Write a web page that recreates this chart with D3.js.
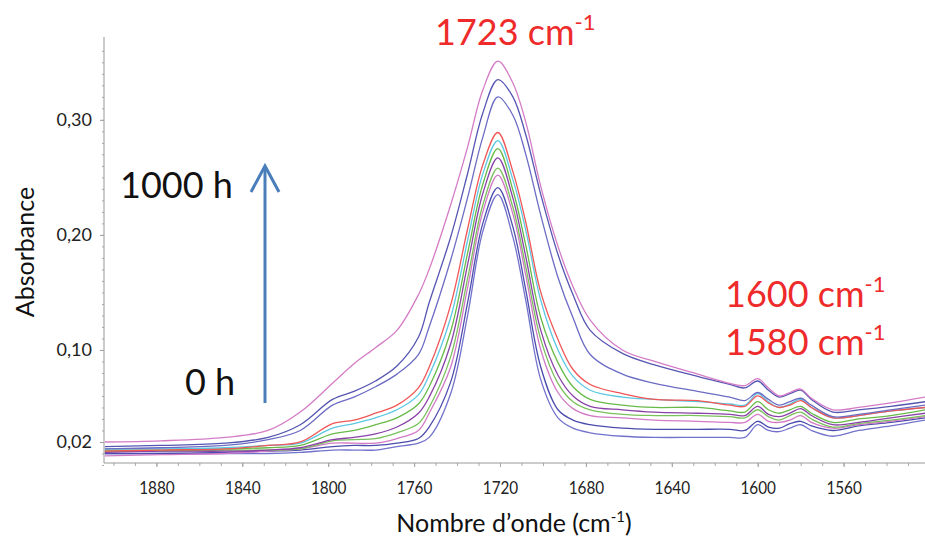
<!DOCTYPE html>
<html><head><meta charset="utf-8">
<script src="https://cdn.jsdelivr.net/npm/d3@7"></script>
<style>
body{margin:0;background:#fff;}
svg{display:block;font-family:Lato,"Open Sans",sans-serif;}
</style></head><body>
<svg id="chart" width="925" height="538"></svg>
<script>
// Wavenumber grid (cm-1)
const wavenumbers = [1904,1878,1848,1828,1813,1798,1788,1778,1768,1758,1753,1743,1735,1728,1721,1714,1708,1701,1693,1686,1678,1663,1648,1628,1613,1606,1600,1595,1590,1585,1580,1575,1565,1553,1538,1522];

// Absorbance spectra, from highest to lowest carbonyl peak
const spectrum1 = [0.020,0.021,0.024,0.030,0.046,0.071,0.088,0.102,0.117,0.148,0.170,0.226,0.277,0.326,0.351,0.332,0.298,0.242,0.190,0.155,0.126,0.100,0.090,0.079,0.071,0.069,0.075,0.067,0.060,0.063,0.066,0.058,0.048,0.050,0.054,0.059];
const spectrum2 = [0.016,0.017,0.019,0.024,0.035,0.057,0.064,0.073,0.086,0.111,0.141,0.198,0.254,0.306,0.335,0.320,0.287,0.235,0.183,0.148,0.117,0.097,0.087,0.077,0.070,0.067,0.073,0.065,0.059,0.062,0.065,0.057,0.046,0.048,0.051,0.055];
const spectrum3 = [0.014,0.015,0.017,0.022,0.030,0.052,0.059,0.068,0.079,0.096,0.120,0.178,0.233,0.285,0.320,0.304,0.270,0.217,0.163,0.128,0.096,0.079,0.071,0.064,0.059,0.056,0.063,0.057,0.052,0.055,0.058,0.052,0.042,0.044,0.048,0.052];
const spectrum4 = [0.012,0.013,0.014,0.017,0.020,0.036,0.039,0.045,0.052,0.067,0.085,0.139,0.206,0.261,0.289,0.255,0.211,0.150,0.109,0.083,0.070,0.062,0.057,0.056,0.052,0.051,0.060,0.054,0.050,0.052,0.056,0.050,0.041,0.043,0.047,0.050];
const spectrum5 = [0.014,0.014,0.015,0.017,0.019,0.032,0.036,0.041,0.048,0.061,0.078,0.128,0.196,0.253,0.282,0.248,0.204,0.143,0.100,0.077,0.065,0.059,0.057,0.055,0.053,0.052,0.062,0.055,0.050,0.053,0.057,0.050,0.041,0.043,0.047,0.050];
const spectrum6 = [0.013,0.013,0.014,0.015,0.017,0.027,0.030,0.035,0.041,0.053,0.068,0.116,0.185,0.244,0.275,0.239,0.191,0.128,0.089,0.068,0.057,0.052,0.050,0.050,0.047,0.046,0.055,0.048,0.045,0.048,0.051,0.045,0.037,0.040,0.043,0.048];
const spectrum7 = [0.011,0.012,0.012,0.013,0.015,0.022,0.024,0.027,0.033,0.045,0.059,0.105,0.175,0.236,0.267,0.232,0.181,0.117,0.078,0.060,0.051,0.048,0.046,0.045,0.044,0.043,0.051,0.044,0.042,0.045,0.049,0.043,0.035,0.037,0.041,0.045];
const spectrum8 = [0.012,0.012,0.013,0.013,0.014,0.021,0.022,0.023,0.028,0.036,0.050,0.094,0.163,0.226,0.258,0.224,0.172,0.109,0.071,0.055,0.048,0.044,0.043,0.043,0.042,0.041,0.048,0.042,0.039,0.043,0.046,0.040,0.033,0.036,0.039,0.043];
const spectrum9 = [0.008,0.009,0.010,0.012,0.014,0.019,0.019,0.019,0.023,0.030,0.045,0.085,0.155,0.220,0.252,0.218,0.165,0.100,0.063,0.049,0.043,0.041,0.039,0.038,0.037,0.037,0.044,0.038,0.037,0.039,0.043,0.037,0.032,0.035,0.038,0.042];
const spectrum10 = [0.010,0.010,0.011,0.012,0.013,0.016,0.017,0.017,0.019,0.023,0.033,0.072,0.142,0.210,0.241,0.207,0.152,0.085,0.048,0.039,0.035,0.032,0.031,0.031,0.031,0.030,0.038,0.033,0.032,0.036,0.038,0.034,0.030,0.034,0.037,0.041];
const spectrum11 = [0.010,0.010,0.010,0.010,0.011,0.013,0.013,0.013,0.016,0.019,0.024,0.062,0.131,0.203,0.235,0.198,0.143,0.074,0.041,0.032,0.028,0.025,0.024,0.024,0.024,0.024,0.035,0.030,0.029,0.032,0.035,0.030,0.025,0.030,0.034,0.039];

const spectra = [spectrum1,spectrum2,spectrum3,spectrum4,spectrum5,spectrum6,spectrum7,spectrum8,spectrum9,spectrum10,spectrum11];
const spectrumColors = ["#d47cc6","#5656b2","#6c6cc4","#f05656","#5cc8e2","#68ba48","#8a42a8","#7ac05c","#d27ac6","#4c4cae","#7272cc"];

const xTickValues = [1880,1840,1800,1760,1720,1680,1640,1600,1560];
const yTickValues = [0.02,0.10,0.20,0.30];
const xDomain = [1904.4,1522.1];
const yDomain = [0,0.372];

const svg = d3.select("#chart");
const x = d3.scaleLinear().domain(xDomain).range([104,925]);
const y = d3.scaleLinear().domain(yDomain).range([465,37]);

const locale = d3.formatLocale({decimal:",",thousands:" ",grouping:[3],currency:["","€"]});
const fmt = locale.format(".2f");

// Y axis
const yAxis = svg.append("g").attr("transform","translate(104,0)")
  .call(d3.axisLeft(y).tickValues(yTickValues).tickFormat(fmt).tickSize(4).tickPadding(8));
yAxis.select(".domain").remove();
yAxis.selectAll(".tick line").attr("stroke","#999");
yAxis.selectAll("text").attr("font-size",18).attr("fill","#222").attr("font-family","Lato");
const yMinor = svg.append("g").attr("transform","translate(104,0)")
  .call(d3.axisLeft(y).tickValues(d3.range(0,0.37,0.01)).tickFormat("").tickSize(2));
yMinor.select(".domain").remove();
yMinor.selectAll(".tick line").attr("stroke","#aaa");
svg.append("line").attr("x1",104).attr("x2",104).attr("y1",37).attr("y2",463).attr("stroke","#999").attr("stroke-width",1);

// X axis
const xAxis = svg.append("g").attr("transform","translate(0,463)")
  .call(d3.axisBottom(x).tickValues(xTickValues).tickFormat(d3.format("d")).tickSize(4).tickPadding(14));
xAxis.select(".domain").remove();
xAxis.selectAll(".tick line").attr("stroke","#999");
xAxis.selectAll("text").attr("font-size",18).attr("fill","#222").attr("font-family","Lato").attr("transform","scale(0.85,1)");
const xMinor = svg.append("g").attr("transform","translate(0,463)")
  .call(d3.axisBottom(x).tickValues(d3.range(1900,1525,-10)).tickFormat("").tickSize(3));
xMinor.select(".domain").remove();
xMinor.selectAll(".tick line").attr("stroke","#aaa");
svg.append("line").attr("x1",104).attr("x2",925).attr("y1",463).attr("y2",463).attr("stroke","#999").attr("stroke-width",1);

// Spectra
const line = d3.line().x((d,i)=>x(wavenumbers[i])).y(d=>y(d)).curve(d3.curveCatmullRom.alpha(0.5));
svg.append("g").selectAll("path").data(spectra.slice().reverse()).join("path")
  .attr("d",line).attr("fill","none")
  .attr("stroke",(d,i)=>spectrumColors[spectra.length-1-i])
  .attr("stroke-width",1.3).attr("stroke-linejoin","round");

// Axis titles
svg.append("text").attr("transform","translate(34,252) rotate(-90)").attr("text-anchor","middle")
  .attr("font-size",25).attr("fill","#111").text("Absorbance");
const xt = svg.append("text").attr("x",514).attr("y",532).attr("text-anchor","middle").attr("font-size",25).attr("fill","#111");
xt.append("tspan").text("Nombre d’onde (cm");
xt.append("tspan").attr("font-size",15).attr("dy",-10).text("-1");
xt.append("tspan").attr("dy",10).text(")");

// Annotations
function waveLabel(text, xx, yy){
  const t = svg.append("text").attr("x",xx).attr("y",yy).attr("font-size",36).attr("fill","#ee2a2a");
  t.append("tspan").text(text);
  t.append("tspan").attr("font-size",22).attr("dy",-15).text("-1");
}
waveLabel("1723 cm", 435, 45);
waveLabel("1600 cm", 725, 307);
waveLabel("1580 cm", 725, 355);
svg.append("text").attr("x",120).attr("y",198).attr("font-size",36).attr("fill","#111").text("1000 h");
svg.append("text").attr("x",185).attr("y",395).attr("font-size",36).attr("fill","#111").text("0 h");
const arrowColor = "#4a7ebb";
svg.append("line").attr("x1",265).attr("x2",265).attr("y1",403).attr("y2",167).attr("stroke",arrowColor).attr("stroke-width",3);
svg.append("path").attr("d","M251,192 L265,166 L279,192").attr("fill","none").attr("stroke",arrowColor).attr("stroke-width",3).attr("stroke-linejoin","miter");
</script>
</body></html>
